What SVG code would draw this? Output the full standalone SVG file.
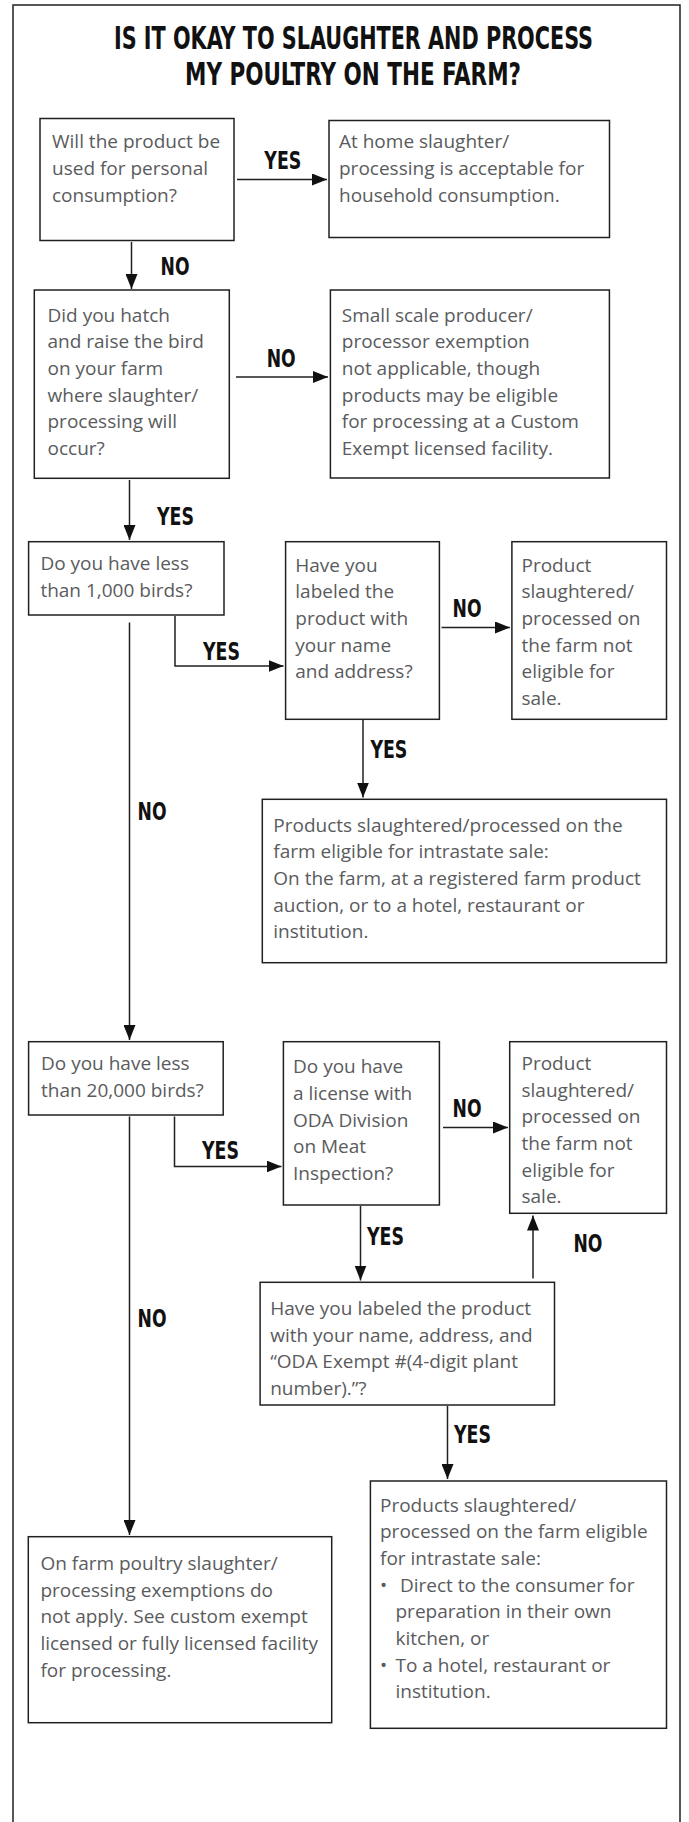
<svg xmlns="http://www.w3.org/2000/svg" width="689" height="1822" viewBox="0 0 689 1822">
<style>
.frame{fill:none;stroke:#231f20;stroke-width:1.5}
.box{fill:#fff;stroke:#231f20;stroke-width:1.5}
.t{font-family:"Open Sans","Noto Sans","Liberation Sans",sans-serif;font-size:19px;fill:#5a5b5d}
.lbl{font-family:"Liberation Sans Narrow","DejaVu Sans Condensed","DejaVu Sans",sans-serif;font-weight:bold;font-size:25px;fill:#111}
.title{font-family:"Liberation Sans Narrow","DejaVu Sans Condensed","DejaVu Sans",sans-serif;font-weight:bold;font-size:32px;fill:#111}
.c{fill:none;stroke:#231f20;stroke-width:1.5}
.ca{fill:none;stroke:#231f20;stroke-width:1.5;marker-end:url(#ah)}
</style>
<defs>
<marker id="ah" markerUnits="userSpaceOnUse" markerWidth="15" markerHeight="12" refX="15" refY="6" orient="auto">
<path d="M0,0 L15,6 L0,12 z" fill="#111"/>
</marker>
</defs>
<rect width="689" height="1822" fill="#fff"/>
<path class="frame" d="M13,1830 V5 H680 V1830"/>
<g id="title">
<text class="title" transform="translate(353.5,49) scale(0.75,1)" x="0" y="0" text-anchor="middle" textLength="638.7" lengthAdjust="spacingAndGlyphs">IS IT OKAY TO SLAUGHTER AND PROCESS</text>
<text class="title" transform="translate(353,85) scale(0.75,1)" x="0" y="0" text-anchor="middle" textLength="448" lengthAdjust="spacingAndGlyphs">MY POULTRY ON THE FARM?</text>
</g>
<g id="connectors">
<line class="ca" x1="237" y1="179.5" x2="327" y2="179.5"/>
<line class="ca" x1="131.5" y1="242" x2="131.5" y2="289"/>
<line class="ca" x1="236" y1="377" x2="328" y2="377"/>
<line class="ca" x1="129.5" y1="480" x2="129.5" y2="540"/>
<polyline class="ca" points="175,616 175,666 283.5,666"/>
<line class="ca" x1="441.5" y1="627.5" x2="510" y2="627.5"/>
<line class="ca" x1="129.5" y1="622.5" x2="129.5" y2="1040"/>
<line class="ca" x1="363" y1="720" x2="363" y2="797.5"/>
<polyline class="ca" points="174.5,1116.5 174.5,1166.5 281.5,1166.5"/>
<line class="ca" x1="443" y1="1127.5" x2="508" y2="1127.5"/>
<line class="ca" x1="360.5" y1="1206" x2="360.5" y2="1280.5"/>
<line class="ca" x1="533" y1="1278.5" x2="533" y2="1215.5"/>
<line class="ca" x1="129.5" y1="1116.5" x2="129.5" y2="1535"/>
<line class="ca" x1="447.5" y1="1406" x2="447.5" y2="1479"/>
</g>
<g id="labels">
<text class="lbl" x="264.3" y="169.3" textLength="37" lengthAdjust="spacingAndGlyphs">YES</text>
<text class="lbl" x="160.5" y="274.5" textLength="29" lengthAdjust="spacingAndGlyphs">NO</text>
<text class="lbl" x="266.7" y="366.5" textLength="29" lengthAdjust="spacingAndGlyphs">NO</text>
<text class="lbl" x="157" y="525" textLength="37" lengthAdjust="spacingAndGlyphs">YES</text>
<text class="lbl" x="203" y="660" textLength="37" lengthAdjust="spacingAndGlyphs">YES</text>
<text class="lbl" x="452.5" y="616.5" textLength="29" lengthAdjust="spacingAndGlyphs">NO</text>
<text class="lbl" x="370.4" y="758.3" textLength="37" lengthAdjust="spacingAndGlyphs">YES</text>
<text class="lbl" x="137.5" y="820" textLength="29" lengthAdjust="spacingAndGlyphs">NO</text>
<text class="lbl" x="202" y="1159.3" textLength="37" lengthAdjust="spacingAndGlyphs">YES</text>
<text class="lbl" x="452.5" y="1117.3" textLength="29" lengthAdjust="spacingAndGlyphs">NO</text>
<text class="lbl" x="367" y="1245" textLength="37" lengthAdjust="spacingAndGlyphs">YES</text>
<text class="lbl" x="573.4" y="1251.7" textLength="29" lengthAdjust="spacingAndGlyphs">NO</text>
<text class="lbl" x="137.5" y="1326.7" textLength="29" lengthAdjust="spacingAndGlyphs">NO</text>
<text class="lbl" x="454" y="1443.3" textLength="37" lengthAdjust="spacingAndGlyphs">YES</text>
</g>
<g id="n1">
<rect class="box" x="40" y="118.5" width="194" height="122"/>
<text class="t" x="52" y="148"><tspan x="52">Will the product be</tspan><tspan x="52" y="175">used for personal</tspan><tspan x="52" y="202">consumption?</tspan></text>
</g>
<g id="n2">
<rect class="box" x="329" y="120.5" width="280.5" height="117"/>
<text class="t" x="339" y="148"><tspan x="339">At home slaughter/</tspan><tspan x="339" y="175">processing is acceptable for</tspan><tspan x="339" y="202">household consumption.</tspan></text>
</g>
<g id="n3">
<rect class="box" x="34.3" y="290" width="195" height="188.3"/>
<text class="t" x="47.5" y="321.7"><tspan x="47.5">Did you hatch</tspan><tspan x="47.5" y="348.3">and raise the bird</tspan><tspan x="47.5" y="375">on your farm</tspan><tspan x="47.5" y="401.7">where slaughter/</tspan><tspan x="47.5" y="428.3">processing will</tspan><tspan x="47.5" y="455">occur?</tspan></text>
</g>
<g id="n4">
<rect class="box" x="330.4" y="290" width="279" height="188"/>
<text class="t" x="341.8" y="321.7"><tspan x="341.8">Small scale producer/</tspan><tspan x="341.8" y="348.3">processor exemption</tspan><tspan x="341.8" y="375">not applicable, though</tspan><tspan x="341.8" y="401.7">products may be eligible</tspan><tspan x="341.8" y="428.3">for processing at a Custom</tspan><tspan x="341.8" y="455">Exempt licensed facility.</tspan></text>
</g>
<g id="n5">
<rect class="box" x="28.6" y="541.7" width="195.4" height="73.3"/>
<text class="t" x="40.4" y="570"><tspan x="40.4">Do you have less</tspan><tspan x="40.4" y="596.7">than 1,000 birds?</tspan></text>
</g>
<g id="n6">
<rect class="box" x="285.6" y="541.7" width="153.8" height="177.6"/>
<text class="t" x="295.3" y="571.7"><tspan x="295.3">Have you</tspan><tspan x="295.3" y="598.3">labeled the</tspan><tspan x="295.3" y="625">product with</tspan><tspan x="295.3" y="651.7">your name</tspan><tspan x="295.3" y="678.3">and address?</tspan></text>
</g>
<g id="n7">
<rect class="box" x="511.9" y="541.7" width="154.6" height="177.6"/>
<text class="t" x="521.5" y="571.7"><tspan x="521.5">Product</tspan><tspan x="521.5" y="598.3">slaughtered/</tspan><tspan x="521.5" y="625">processed on</tspan><tspan x="521.5" y="651.7">the farm not</tspan><tspan x="521.5" y="678.3">eligible for</tspan><tspan x="521.5" y="705">sale.</tspan></text>
</g>
<g id="n8">
<rect class="box" x="262.3" y="799.3" width="404.2" height="163.4"/>
<text class="t" x="273.3" y="831.7"><tspan x="273.3">Products slaughtered/processed on the</tspan><tspan x="273.3" y="858.3">farm eligible for intrastate sale:</tspan><tspan x="273.3" y="885">On the farm, at a registered farm product</tspan><tspan x="273.3" y="911.7">auction, or to a hotel, restaurant or</tspan><tspan x="273.3" y="938.3">institution.</tspan></text>
</g>
<g id="n9">
<rect class="box" x="28.6" y="1041.7" width="194.6" height="73.3"/>
<text class="t" x="41" y="1070"><tspan x="41">Do you have less</tspan><tspan x="41" y="1096.7">than 20,000 birds?</tspan></text>
</g>
<g id="n10">
<rect class="box" x="283.4" y="1041.7" width="156" height="163.3"/>
<text class="t" x="293" y="1073.3"><tspan x="293">Do you have</tspan><tspan x="293" y="1100">a license with</tspan><tspan x="293" y="1126.7">ODA Division</tspan><tspan x="293" y="1153.3">on Meat</tspan><tspan x="293" y="1180">Inspection?</tspan></text>
</g>
<g id="n11">
<rect class="box" x="509.7" y="1041.7" width="156.8" height="171.6"/>
<text class="t" x="521.5" y="1070"><tspan x="521.5">Product</tspan><tspan x="521.5" y="1096.7">slaughtered/</tspan><tspan x="521.5" y="1123.3">processed on</tspan><tspan x="521.5" y="1150">the farm not</tspan><tspan x="521.5" y="1176.7">eligible for</tspan><tspan x="521.5" y="1203.3">sale.</tspan></text>
</g>
<g id="n12">
<rect class="box" x="260.1" y="1282.3" width="294.4" height="122.7"/>
<text class="t" x="270.2" y="1315"><tspan x="270.2">Have you labeled the product</tspan><tspan x="270.2" y="1341.7">with your name, address, and</tspan><tspan x="270.2" y="1368.3">“ODA Exempt #(4-digit plant</tspan><tspan x="270.2" y="1395">number).”?</tspan></text>
</g>
<g id="n13">
<rect class="box" x="370.4" y="1481" width="296.1" height="247.3"/>
<text class="t" x="380" y="1511.7"><tspan x="380">Products slaughtered/</tspan><tspan x="380" y="1538.3">processed on the farm eligible</tspan><tspan x="380" y="1565">for intrastate sale:</tspan><tspan x="380" y="1591.7">•</tspan><tspan x="400" y="1591.7">Direct to the consumer for</tspan><tspan x="395.5" y="1618.3">preparation in their own</tspan><tspan x="395.5" y="1645">kitchen, or</tspan><tspan x="380" y="1671.7">•</tspan><tspan x="395.5" y="1671.7">To a hotel, restaurant or</tspan><tspan x="395.5" y="1698.3">institution.</tspan></text>
</g>
<g id="n14">
<rect class="box" x="28.3" y="1536.7" width="303.4" height="186"/>
<text class="t" x="40.4" y="1570"><tspan x="40.4">On farm poultry slaughter/</tspan><tspan x="40.4" y="1596.7">processing exemptions do</tspan><tspan x="40.4" y="1623.3">not apply. See custom exempt</tspan><tspan x="40.4" y="1650">licensed or fully licensed facility</tspan><tspan x="40.4" y="1676.7">for processing.</tspan></text>
</g>
</svg>
